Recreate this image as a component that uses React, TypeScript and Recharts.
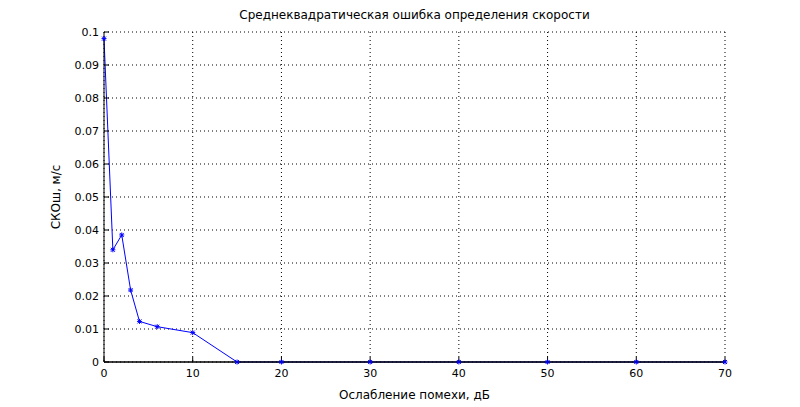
import React from "react";
import {
  CartesianGrid,
  Line,
  LineChart,
  ReferenceLine,
  XAxis,
  YAxis,
} from "recharts";

const attenuationDb = [0, 1, 2, 3, 4, 6, 10, 15, 20, 30, 40, 50, 60, 70];
const rmsError = [
  0.098, 0.034, 0.0385, 0.0218, 0.0123, 0.0107, 0.0089, 0, 0, 0, 0, 0, 0, 0,
];
const xTicks = [0, 10, 20, 30, 40, 50, 60, 70];
const yTicks = [0, 0.01, 0.02, 0.03, 0.04, 0.05, 0.06, 0.07, 0.08, 0.09, 0.1];

const data = attenuationDb.map((x, i) => ({ x, y: rmsError[i] }));

const FONT = "'DejaVu Sans', sans-serif";
const tickStyle = { fontSize: 11, fill: "#000", fontFamily: FONT };

// matlab "*" marker
function StarDot(props: any) {
  const { cx, cy } = props;
  if (cx == null || cy == null) return null;
  const r = 2.5;
  return (
    <g stroke="#0000ff" strokeWidth={1}>
      <line x1={cx - r} y1={cy} x2={cx + r} y2={cy} />
      <line x1={cx} y1={cy - r} x2={cx} y2={cy + r} />
      <line x1={cx - 2} y1={cy - 2} x2={cx + 2} y2={cy + 2} />
      <line x1={cx - 2} y1={cy + 2} x2={cx + 2} y2={cy - 2} />
    </g>
  );
}

export default function App() {
  return (
    <div
      style={{
        position: "absolute",
        left: 0,
        top: 0,
        width: 800,
        height: 407,
        background: "#fff",
        fontFamily: FONT,
      }}
    >
      <LineChart
        width={800}
        height={407}
        data={data}
        margin={{ top: 32, right: 75, bottom: 0, left: 0 }}
      >
        <CartesianGrid
          xAxisId="b"
          yAxisId="l"
          stroke="#000"
          strokeDasharray="1 3"
        />
        <XAxis
          xAxisId="b"
          dataKey="x"
          type="number"
          domain={[0, 70]}
          ticks={xTicks}
          height={45}
          stroke="#000"
          tick={tickStyle}
          tickSize={-5}
          tickMargin={12}
          label={{
            value: "Ослабление помехи, дБ",
            position: "insideBottom",
            offset: 8,
            style: { fontSize: 12, fill: "#000", fontFamily: FONT },
          }}
        />
        <XAxis
          xAxisId="t"
          orientation="top"
          dataKey="x"
          type="number"
          domain={[0, 70]}
          ticks={xTicks}
          height={0}
          stroke="#000"
          tick={false}
          tickSize={-5}
        />
        <YAxis
          yAxisId="l"
          type="number"
          domain={[0, 0.1]}
          ticks={yTicks}
          width={104}
          stroke="#000"
          tick={tickStyle}
          tickSize={-5}
          tickMargin={10}
          tickFormatter={(v: number) => String(v)}
          label={{
            value: "СКОш, м/с",
            angle: -90,
            position: "insideLeft",
            offset: 56,
            style: {
              fontSize: 12,
              fill: "#000",
              fontFamily: FONT,
              textAnchor: "middle",
            },
          }}
        />
        <YAxis
          yAxisId="r"
          orientation="right"
          type="number"
          domain={[0, 0.1]}
          ticks={yTicks}
          width={0}
          stroke="#000"
          tick={false}
          tickSize={-5}
        />
        <Line
          xAxisId="b"
          yAxisId="l"
          dataKey="y"
          stroke="#0000ff"
          strokeWidth={1}
          dot={<StarDot />}
          activeDot={false}
          isAnimationActive={false}
        />
        <ReferenceLine xAxisId="b" yAxisId="l" y={0} stroke="#000" />
        <text
          x={414.5}
          y={19}
          textAnchor="middle"
          style={{ fontSize: 12, fill: "#000", fontFamily: FONT }}
        >
          Среднеквадратическая ошибка определения скорости
        </text>
      </LineChart>
    </div>
  );
}
